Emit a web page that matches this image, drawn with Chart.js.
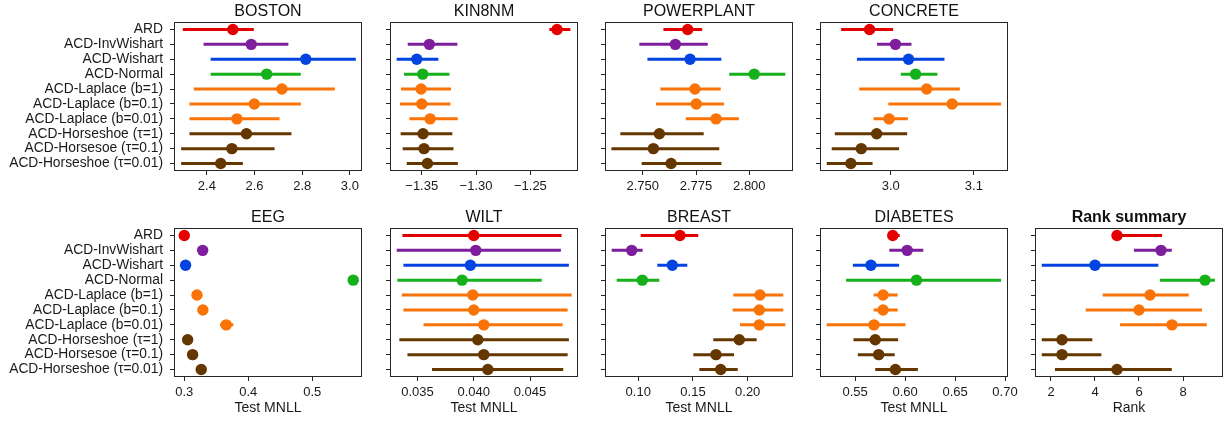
<!DOCTYPE html>
<html>
<head>
<meta charset="utf-8">
<script src="https://cdn.jsdelivr.net/npm/chart.js@4.4.1/dist/chart.umd.min.js"></script>
<style>
  body { margin: 0; background: #fff; width: 1225px; height: 423px; position: relative; overflow: hidden; }
  canvas { position: absolute; }
</style>
</head>
<body>
<script>
// methods shown on every panel (top to bottom)
const methods = ['ARD', 'ACD-InvWishart', 'ACD-Wishart', 'ACD-Normal',
  'ACD-Laplace (b=1)', 'ACD-Laplace (b=0.1)', 'ACD-Laplace (b=0.01)',
  'ACD-Horseshoe (τ=1)', 'ACD-Horsesoe (τ=0.1)', 'ACD-Horseshoe (τ=0.01)'];
const colours = ['#e50000', '#7e1e9c', '#0343df', '#15b01a',
  '#f97306', '#f97306', '#f97306', '#653700', '#653700', '#653700'];

// BOSTON
const bostonMean = [2.509, 2.586, 2.815, 2.651, 2.715, 2.599, 2.526, 2.566, 2.505, 2.458];
const bostonLow  = [2.299, 2.386, 2.416, 2.416, 2.345, 2.327, 2.327, 2.327, 2.292, 2.292];
const bostonHigh = [2.597, 2.742, 3.025, 2.794, 2.937, 2.794, 2.705, 2.755, 2.684, 2.551];
const bostonTicks = [2.4, 2.6, 2.8, 3.0];
const bostonTickLabels = ['2.4', '2.6', '2.8', '3.0'];

// KIN8NM
const kinMean = [-1.2255, -1.343, -1.3546, -1.3491, -1.3506, -1.35, -1.3423, -1.3488, -1.3479, -1.3448];
const kinLow  = [-1.2326, -1.3629, -1.3731, -1.3663, -1.3691, -1.37, -1.3614, -1.3694, -1.3675, -1.3638];
const kinHigh = [-1.2132, -1.3172, -1.3347, -1.3245, -1.323, -1.3236, -1.3168, -1.3218, -1.3208, -1.3168];
const kinTicks = [-1.35, -1.30, -1.25];
const kinTickLabels = ['\u22121.35', '\u22121.30', '\u22121.25'];

// POWERPLANT
const powerMean = [2.7711, 2.7653, 2.7722, 2.8023, 2.7745, 2.7751, 2.7844, 2.7578, 2.755, 2.7633];
const powerLow  = [2.7597, 2.7484, 2.7522, 2.7906, 2.7583, 2.7562, 2.7702, 2.7395, 2.7353, 2.7495];
const powerHigh = [2.7779, 2.7805, 2.7869, 2.8169, 2.7866, 2.7881, 2.7951, 2.7786, 2.7859, 2.7869];
const powerTicks = [2.75, 2.775, 2.8];
const powerTickLabels = ['2.750', '2.775', '2.800'];

// CONCRETE
const concreteMean = [2.9746, 3.0057, 3.0214, 3.0299, 3.0432, 3.0738, 2.998, 2.9831, 2.9646, 2.9521];
const concreteLow  = [2.9404, 2.9836, 2.9594, 3.0121, 2.9622, 2.9972, 2.9794, 2.9328, 2.9291, 2.9231];
const concreteHigh = [3.0029, 3.025, 3.0646, 3.0561, 3.0831, 3.1326, 3.0206, 3.0198, 3.0101, 2.9782];
const concreteTicks = [3.0, 3.1];
const concreteTickLabels = ['3.0', '3.1'];

// EEG
const eegMean = [0.300, 0.3287, 0.302, 0.564, 0.3198, 0.329, 0.3655, 0.3052, 0.313, 0.3265];
const eegLow  = [0.298, 0.3265, 0.2995, 0.561, 0.3175, 0.3268, 0.3558, 0.303, 0.3108, 0.3245];
const eegHigh = [0.302, 0.331, 0.3045, 0.567, 0.322, 0.331, 0.3766, 0.3075, 0.3152, 0.3285];
const eegTicks = [0.3, 0.4, 0.5];
const eegTickLabels = ['0.3', '0.4', '0.5'];

// WILT
const wiltMean = [0.0400, 0.04018, 0.0397, 0.03896, 0.03991, 0.0400, 0.04089, 0.04036, 0.04089, 0.04125];
const wiltLow  = [0.03366, 0.03316, 0.03375, 0.03321, 0.03361, 0.03375, 0.03554, 0.03339, 0.03411, 0.03629];
const wiltHigh = [0.0478, 0.04774, 0.04845, 0.04604, 0.0487, 0.04834, 0.04789, 0.04845, 0.04834, 0.04795];
const wiltTicks = [0.035, 0.040, 0.045];
const wiltTickLabels = ['0.035', '0.040', '0.045'];

// BREAST
const breastMean = [0.1381, 0.094, 0.1311, 0.1037, 0.2112, 0.2106, 0.2106, 0.1923, 0.171, 0.1753];
const breastLow  = [0.1022, 0.0757, 0.1174, 0.0803, 0.1868, 0.1863, 0.193, 0.1686, 0.1503, 0.1558];
const breastHigh = [0.1548, 0.104, 0.1448, 0.1192, 0.2325, 0.2325, 0.2344, 0.2082, 0.1875, 0.1909];
const breastTicks = [0.10, 0.15, 0.20];
const breastTickLabels = ['0.10', '0.15', '0.20'];

// DIABETES
const diabetesMean = [0.5876, 0.6021, 0.5658, 0.6114, 0.5779, 0.5779, 0.5688, 0.5701, 0.5735, 0.5903];
const diabetesLow  = [0.584, 0.5842, 0.5477, 0.5409, 0.5685, 0.5685, 0.5215, 0.5483, 0.5527, 0.5701];
const diabetesHigh = [0.5946, 0.6182, 0.594, 0.696, 0.5926, 0.5926, 0.6004, 0.593, 0.5896, 0.6128];
const diabetesTicks = [0.55, 0.60, 0.65, 0.70];
const diabetesTickLabels = ['0.55', '0.60', '0.65', '0.70'];

// Rank summary
const rankMean = [5.0, 7.0, 4.0, 9.0, 6.5, 6.0, 7.5, 2.5, 2.5, 5.0];
const rankLow  = [5.0, 5.77, 1.58, 6.95, 4.35, 3.58, 5.14, 1.58, 1.58, 2.18];
const rankHigh = [7.05, 7.49, 6.88, 9.45, 8.26, 8.86, 9.08, 3.88, 4.29, 7.49];
const rankTicks = [2, 4, 6, 8];
const rankTickLabels = ['2', '4', '6', '8'];

Chart.defaults.font.family = "'Liberation Sans', Arial, sans-serif";
Chart.defaults.color = '#1a1a1a';

// layout of the grid
const colLeft = [174, 390, 605, 820, 1035];
const rowTop = [22, 228];
const frameW = 188, frameH = 149;
const titleH = 22;
const xAxisH = [30, 42];
const padR = 25;

const framePlugin = {
  id: 'frame',
  afterDatasetsDraw(chart) {
    const { ctx, chartArea: a } = chart;
    ctx.save();
    ctx.strokeStyle = '#262626';
    ctx.lineWidth = 1;
    ctx.strokeRect(Math.round(a.left) + 0.5, Math.round(a.top) + 0.5, Math.round(a.width) - 1, Math.round(a.height) - 1);
    ctx.restore();
  }
};

function panel(p) {
  const yw = p.col === 0 ? colLeft[0] : 25;
  const cv = document.createElement('canvas');
  const w = yw + frameW + padR;
  const h = titleH + frameH + xAxisH[p.row];
  cv.width = w; cv.height = h;
  cv.style.left = (colLeft[p.col] - yw) + 'px';
  cv.style.top = (rowTop[p.row] - titleH) + 'px';
  cv.style.width = w + 'px'; cv.style.height = h + 'px';
  document.body.appendChild(cv);

  const dots = {
    data: p.mean.map((m, i) => ({ x: m, y: methods[i] })),
    pointRadius: 5.7,
    pointBackgroundColor: colours,
    pointBorderWidth: 0,
    showLine: false
  };
  const bars = methods.map((m, i) => ({
    data: [{ x: p.low[i], y: m }, { x: p.high[i], y: m }],
    showLine: true,
    borderColor: colours[i],
    borderWidth: 3,
    pointRadius: 0
  }));

  new Chart(cv, {
    type: 'scatter',
    data: { datasets: [dots, ...bars] },
    options: {
      responsive: false,
      animation: false,
      events: [],
      layout: { padding: { right: padR }, autoPadding: false },
      plugins: {
        legend: { display: false },
        tooltip: { enabled: false },
        title: {
          display: true,
          text: p.title,
          fullSize: false,
          color: '#111',
          font: { size: 16, lineHeight: 1.25, weight: p.bold ? 'bold' : 'normal' },
          padding: { top: 2, bottom: 0 }
        }
      },
      scales: {
        x: {
          type: 'linear',
          min: p.min, max: p.max,
          afterBuildTicks: s => { s.ticks = p.ticks.map(v => ({ value: v })); },
          afterFit: s => { s.height = xAxisH[p.row]; },
          ticks: {
            autoSkip: false, maxRotation: 0, padding: 4,
            font: { size: 13 },
            callback: (v, i) => p.tickLabels[i]
          },
          grid: { display: true, drawOnChartArea: false, drawTicks: true, tickLength: 4, color: '#262626' },
          border: { display: false },
          title: {
            display: !!p.xTitle,
            text: p.xTitle || '',
            font: { size: 14 },
            padding: { top: 0, bottom: 2 }
          }
        },
        y: {
          type: 'category',
          labels: methods,
          offset: true,
          afterFit: s => { s.width = yw; },
          ticks: {
            autoSkip: false, padding: 7,
            font: { size: 13.8 },
            callback: (v, i) => p.col === 0 ? methods[i] : ''
          },
          grid: { display: true, offset: false, drawOnChartArea: false, drawTicks: true, tickLength: 4, color: '#262626' },
          border: { display: false }
        }
      }
    },
    plugins: [framePlugin]
  });
}

panel({ title: 'BOSTON', row: 0, col: 0, mean: bostonMean, low: bostonLow, high: bostonHigh,
  min: 2.262, max: 3.051, ticks: bostonTicks, tickLabels: bostonTickLabels });
panel({ title: 'KIN8NM', row: 0, col: 1, mean: kinMean, low: kinLow, high: kinHigh,
  min: -1.3792, max: -1.2062, ticks: kinTicks, tickLabels: kinTickLabels });
panel({ title: 'POWERPLANT', row: 0, col: 2, mean: powerMean, low: powerLow, high: powerHigh,
  min: 2.7323, max: 2.8205, ticks: powerTicks, tickLabels: powerTickLabels });
panel({ title: 'CONCRETE', row: 0, col: 3, mean: concreteMean, low: concreteLow, high: concreteHigh,
  min: 2.915, max: 3.141, ticks: concreteTicks, tickLabels: concreteTickLabels });

panel({ title: 'EEG', row: 1, col: 0, mean: eegMean, low: eegLow, high: eegHigh,
  min: 0.2839, max: 0.5777, ticks: eegTicks, tickLabels: eegTickLabels, xTitle: 'Test MNLL' });
panel({ title: 'WILT', row: 1, col: 1, mean: wiltMean, low: wiltLow, high: wiltHigh,
  min: 0.03256, max: 0.04926, ticks: wiltTicks, tickLabels: wiltTickLabels, xTitle: 'Test MNLL' });
panel({ title: 'BREAST', row: 1, col: 2, mean: breastMean, low: breastLow, high: breastHigh,
  min: 0.0696, max: 0.2414, ticks: breastTicks, tickLabels: breastTickLabels, xTitle: 'Test MNLL' });
panel({ title: 'DIABETES', row: 1, col: 3, mean: diabetesMean, low: diabetesLow, high: diabetesHigh,
  min: 0.5148, max: 0.703, ticks: diabetesTicks, tickLabels: diabetesTickLabels, xTitle: 'Test MNLL' });
panel({ title: 'Rank summary', row: 1, col: 4, bold: true, mean: rankMean, low: rankLow, high: rankHigh,
  min: 1.273, max: 9.818, ticks: rankTicks, tickLabels: rankTickLabels, xTitle: 'Rank' });
</script>
</body>
</html>
